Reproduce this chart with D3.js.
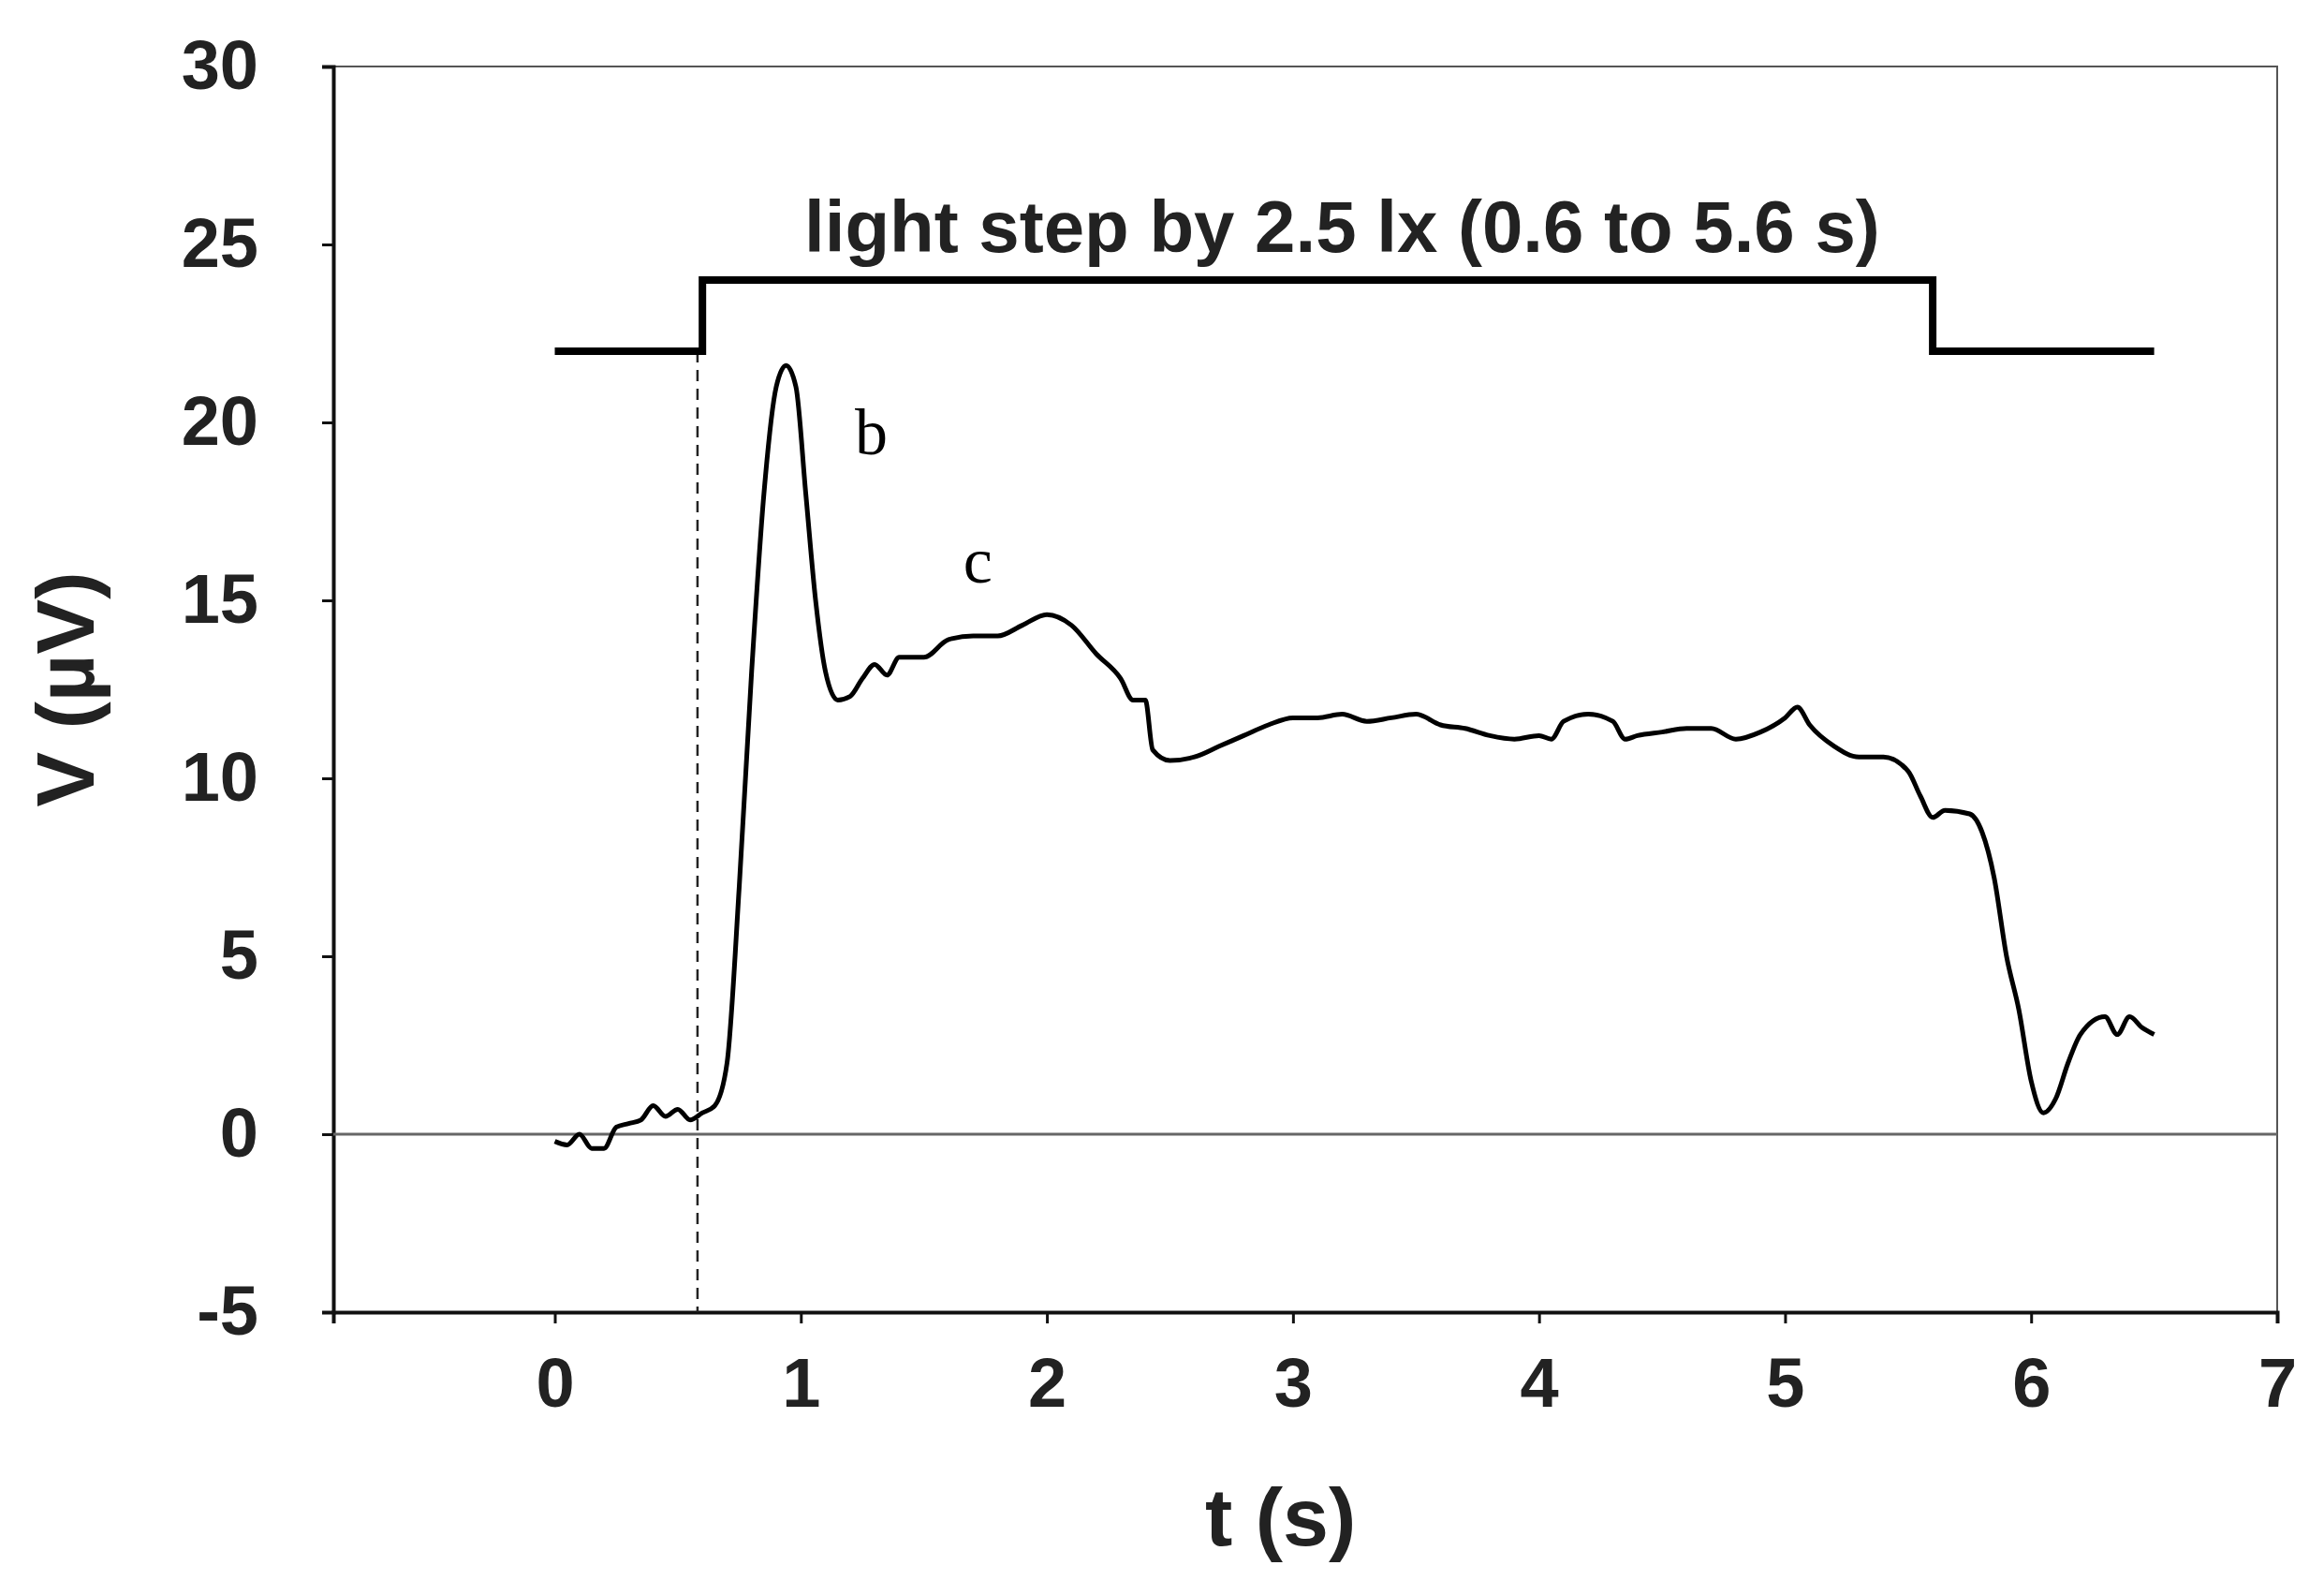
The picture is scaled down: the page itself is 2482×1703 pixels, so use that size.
<!DOCTYPE html>
<html lang="en">
<head>
  <meta charset="UTF-8">
  <title>Light step response</title>
  <script src="https://d3js.org/d3.v7.min.js"></script>
  <style>
    body { margin: 0; background: #fff; }
    text { font-family: "Liberation Sans", Arial, sans-serif; }
  </style>
</head>
<body>
  <script>
    // response trace (t in s, V in uV)
    const times = [0, 0.05, 0.1, 0.15, 0.2, 0.25, 0.3, 0.35, 0.4, 0.45, 0.5, 0.55, 0.6, 0.65, 0.7, 0.75, 0.8, 0.85, 0.9, 0.94, 0.98,
      1.02, 1.06, 1.1, 1.15, 1.2, 1.25, 1.3, 1.35, 1.4, 1.5, 1.6, 1.7, 1.8, 1.9, 2.0, 2.1, 2.2, 2.3, 2.35, 2.4, 2.43, 2.5,
      2.6, 2.7, 2.8, 2.9, 3.0, 3.1, 3.2, 3.3, 3.4, 3.5, 3.6, 3.7, 3.8, 3.9, 4.0, 4.05, 4.1, 4.2, 4.3, 4.35, 4.4, 4.5, 4.6,
      4.7, 4.8, 4.9, 5.0, 5.05, 5.1, 5.2, 5.3, 5.4, 5.5, 5.55, 5.6, 5.65, 5.75, 5.8, 5.85, 5.9, 5.95, 6.0, 6.05, 6.1, 6.15,
      6.2, 6.3, 6.35, 6.4, 6.45, 6.5];
    const volts = [-0.2, -0.3, 0, -0.4, -0.4, 0.2, 0.3, 0.4, 0.8, 0.5, 0.7, 0.4, 0.6, 0.8, 2, 7, 13, 18, 21, 21.6, 21,
      18, 15, 13, 12.2, 12.3, 12.8, 13.2, 12.9, 13.4, 13.4, 13.9, 14, 14, 14.3, 14.6, 14.3, 13.5, 12.8, 12.2, 12.2, 10.8, 10.5,
      10.6, 10.9, 11.2, 11.5, 11.7, 11.7, 11.8, 11.6, 11.7, 11.8, 11.5, 11.4, 11.2, 11.1, 11.2, 11.1, 11.6, 11.8, 11.6, 11.1, 11.2, 11.3, 11.4,
      11.4, 11.1, 11.3, 11.7, 12.0, 11.5, 10.9, 10.6, 10.6, 10.2, 9.5, 8.9, 9.1, 9.0, 8.5, 7.2, 5, 3.5, 1.5, 0.6, 1, 2,
      2.8, 3.3, 2.8, 3.3, 3, 2.8];
    // stimulus marker
    const stimT = [0, 0.6, 0.6, 5.6, 5.6, 6.5];
    const stimV = [22, 22, 24, 24, 22, 22];
    const xTicks = [0, 1, 2, 3, 4, 5, 6, 7];
    const yTicks = [-5, 0, 5, 10, 15, 20, 25, 30];

    const W = 2482, H = 1703;
    const m = { left: 356, right: 50, top: 71, bottom: 302 };

    const svg = d3.select("body").append("svg")
      .attr("width", W).attr("height", H);

    const x = d3.scaleLinear().domain([-0.9, 7]).range([m.left, W - m.right]);
    const y = d3.scaleLinear().domain([-5, 30]).range([H - m.bottom, m.top]);

    // frame
    svg.append("rect")
      .attr("x", x(-0.9)).attr("y", y(30))
      .attr("width", x(7) - x(-0.9)).attr("height", y(-5) - y(30))
      .attr("fill", "none").attr("stroke", "#555").attr("stroke-width", 2);

    const xAxis = svg.append("g")
      .attr("transform", `translate(0,${y(-5)})`)
      .call(d3.axisBottom(x).tickValues(xTicks).tickSize(12).tickPadding(36).tickFormat(d => String(d)));
    const yAxis = svg.append("g")
      .attr("transform", `translate(${x(-0.9)},0)`)
      .call(d3.axisLeft(y).tickValues(yTicks).tickSize(12).tickPadding(70 - 12 + 10).tickFormat(d => String(d)));
    [xAxis, yAxis].forEach(g => {
      g.select(".domain").attr("stroke", "#111").attr("stroke-width", 4);
      g.selectAll(".tick line").attr("stroke", "#111").attr("stroke-width", 3);
      g.selectAll(".tick text").attr("font-size", 74).attr("font-weight", "bold").attr("fill", "#222");
    });
    yAxis.selectAll(".tick text").attr("dx", 0);

    // zero line
    svg.append("line")
      .attr("x1", x(-0.9)).attr("x2", x(7))
      .attr("y1", y(0)).attr("y2", y(0))
      .attr("stroke", "#666").attr("stroke-width", 3);

    // dashed onset line
    svg.append("line")
      .attr("x1", x(0.58)).attr("x2", x(0.58))
      .attr("y1", y(22)).attr("y2", y(-5))
      .attr("stroke", "#222").attr("stroke-width", 2.5).attr("stroke-dasharray", "12,8");

    const line = d3.line().x(d => x(d[0])).y(d => y(d[1]));

    svg.append("path")
      .datum(d3.zip(stimT, stimV))
      .attr("d", line)
      .attr("fill", "none").attr("stroke", "#000").attr("stroke-width", 8);

    svg.append("path")
      .datum(d3.zip(times, volts))
      .attr("d", d3.line().x(d => x(d[0])).y(d => y(d[1])).curve(d3.curveMonotoneX))
      .attr("fill", "none").attr("stroke", "#000").attr("stroke-width", 5);

    svg.append("text")
      .attr("x", x(3.2)).attr("y", y(24.8))
      .attr("text-anchor", "middle").attr("font-size", 78).attr("font-weight", "bold").attr("fill", "#222")
      .text("light step by 2.5 lx (0.6 to 5.6 s)");

    svg.append("text").attr("x", x(1.22)).attr("y", y(19.1))
      .attr("font-size", 70).text("b")
      .style("font-family", "'Liberation Serif', serif");
    svg.append("text").attr("x", x(1.66)).attr("y", y(15.5))
      .attr("font-size", 70).text("c")
      .style("font-family", "'Liberation Serif', serif");

    svg.append("text")
      .attr("x", x(2.95)).attr("y", 1650)
      .attr("text-anchor", "middle").attr("font-size", 88).attr("font-weight", "bold").attr("fill", "#222")
      .text("t (s)");
    svg.append("text")
      .attr("transform", `translate(100,${y(12.5)}) rotate(-90)`)
      .attr("text-anchor", "middle").attr("font-size", 88).attr("font-weight", "bold").attr("fill", "#222")
      .text("V (µV)");
  </script>
</body>
</html>
